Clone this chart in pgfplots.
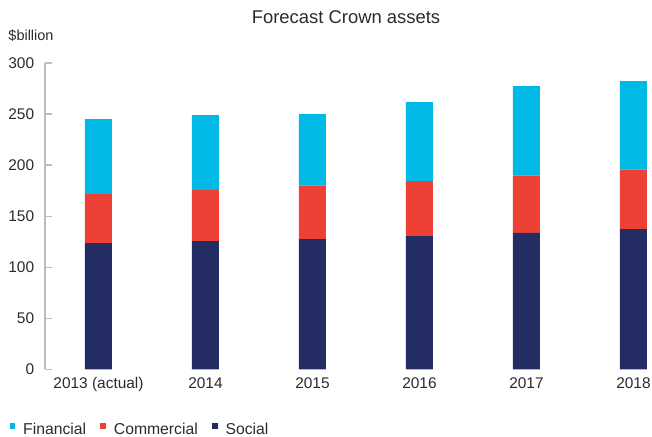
\documentclass[border=0pt]{standalone}
\usepackage{fontspec}
\setmainfont{Liberation Sans}
\usepackage{pgfplots}
\usepackage{pgfplotstable}
\pgfplotsset{compat=1.18}
\definecolor{financial}{HTML}{00B9E4}
\definecolor{commercial}{HTML}{EE4136}
\definecolor{social}{HTML}{232C63}
\definecolor{axisgray}{HTML}{BDBDBD}
\definecolor{ink}{HTML}{2B2B2B}

% Crown assets, $billion
\pgfplotstableread{
x social commercial financial
0 123.7 47.9 73.5
1 125.6 50.0 73.4
2 127.6 52.2 70.2
3 130.5 53.9 77.3
4 133.5 56.1 87.8
5 137.4 58.1 86.8
}\assets

\begin{document}
\begin{tikzpicture}
\useasboundingbox (-45bp,-67.7bp) rectangle (607bp,369.3bp);
\begin{axis}[
  at={(0bp,0bp)}, anchor=south west,
  scale only axis, width=607bp, height=306.3bp,
  ybar stacked, bar width=27bp,
  xmin=-0.5, xmax=5.173, ymin=0, ymax=300,
  xtick={0,...,5},
  xticklabels={2013 (actual),2014,2015,2016,2017,2018},
  ytick={0,50,...,300},
  axis lines*=left,
  x axis line style={draw=none},
  y axis line style={draw=axisgray, line width=1.3pt},
  xtick style={draw=none},
  ytick style={draw=axisgray, line width=1.3pt},
  tick align=inside, major tick length=7bp,
  /pgf/number format/assume math mode=true,
  ticklabel style={font=\fontsize{15.5}{18}\selectfont, text=ink},
  yticklabel style={anchor=east, inner sep=0pt, xshift=-10.7bp},
  xticklabel style={anchor=base, inner sep=0pt, yshift=-19bp},
  legend columns=3, reverse legend,
  legend style={at={(-0.0588,-0.197)}, anchor=west, draw=none, fill=none,
    inner sep=0pt, font=\fontsize{15.8}{18}\selectfont, text=ink,
    nodes={inner sep=0pt},
    /tikz/every odd column/.append style={column sep=8bp},
    /tikz/every even column/.append style={column sep=14bp}},
  legend image code/.code={\fill[#1] (0bp,1.5bp) rectangle (5.7bp,7.2bp);},
]
\addplot[fill=social, draw=none] table[x=x, y=social] {\assets};
\addplot[fill=commercial, draw=none] table[x=x, y=commercial] {\assets};
\addplot[fill=financial, draw=none] table[x=x, y=financial] {\assets};
\legend{Social,Commercial,Financial}
\end{axis}
\node[anchor=base, inner sep=0pt, text=ink, font=\fontsize{18.5}{22}\selectfont] at (301bp,345.3bp) {Forecast Crown assets};
\node[anchor=base west, inner sep=0pt, text=ink, font=\fontsize{14.5}{17}\selectfont] at (-36.7bp,328.6bp) {\$billion};
\end{tikzpicture}
\end{document}
